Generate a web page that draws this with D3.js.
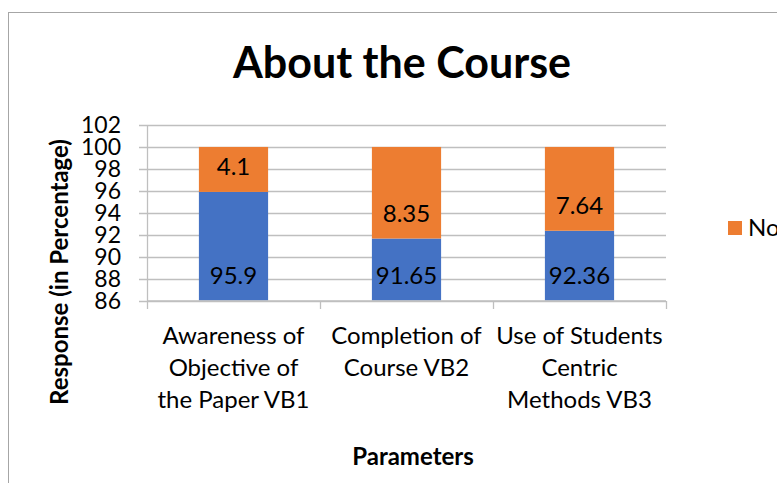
<!DOCTYPE html>
<html>
<head>
<meta charset="utf-8">
<script src="https://cdn.jsdelivr.net/npm/d3@7"></script>
<style>
  body { margin: 0; background: #fff; }
  text { font-family: Lato, "Noto Sans", sans-serif; fill: #000; }
</style>
</head>
<body>
<div id="chart"></div>
<script>
var width = 777,
    height = 483;

// data
var categories = ['VB1', 'VB2', 'VB3'];
var categoryLines = [
    ['Awareness of', 'Objective of', 'the Paper VB1'],
    ['Completion of', 'Course VB2'],
    ['Use of Students', 'Centric', 'Methods VB3']
];
var yesValues = [95.9, 91.65, 92.36];
var noValues = [4.1, 8.35, 7.64];
var seriesNames = ['Yes', 'No'];
var yTicks = [86, 88, 90, 92, 94, 96, 98, 100, 102];

var colors = { Yes: '#4472C4', No: '#ED7D31' };

var svg = d3.select('#chart').append('svg')
    .attr('width', width)
    .attr('height', height);

// outer chart frame (cut off at right and bottom)
svg.append('rect')
    .attr('x', 8.5)
    .attr('y', 12.5)
    .attr('width', 900)
    .attr('height', 600)
    .attr('fill', 'none')
    .attr('stroke', '#a6a6a6');

var xScale = d3.scaleBand()
    .domain(categories)
    .range([147, 666])
    .paddingInner(0.6)
    .paddingOuter(0.3);

var yScale = d3.scaleLinear()
    .domain([86, 102])
    .range([300.5, 125])
    .clamp(true);

// gridlines + left ticks
svg.append('g')
    .attr('class', 'grid')
    .selectAll('line')
    .data(yTicks)
    .enter().append('line')
    .attr('x1', 139)
    .attr('x2', 666)
    .attr('y1', function(d) { return Math.round(yScale(d)) + 0.5; })
    .attr('y2', function(d) { return Math.round(yScale(d)) + 0.5; })
    .attr('stroke', '#bfbfbf')
    .attr('stroke-width', 1.3);

// y axis labels
svg.append('g')
    .selectAll('text')
    .data(yTicks)
    .enter().append('text')
    .attr('x', 121)
    .attr('y', function(d) { return yScale(d); })
    .attr('dy', '0.35em')
    .attr('text-anchor', 'end')
    .attr('font-size', '23px')
    .text(function(d) { return d; });

// stacked bars
var rows = categories.map(function(c, i) {
    return { cat: c, Yes: yesValues[i], No: noValues[i] };
});
var stacked = d3.stack().keys(seriesNames)(rows);

var layer = svg.selectAll('.layer')
    .data(stacked)
    .enter().append('g')
    .attr('class', 'layer')
    .attr('fill', function(d) { return colors[d.key]; });

layer.selectAll('rect')
    .data(function(d) { return d; })
    .enter().append('rect')
    .attr('x', function(d) { return xScale(d.data.cat); })
    .attr('width', xScale.bandwidth())
    .attr('y', function(d) { return yScale(d[1]); })
    .attr('height', function(d) { return yScale(d[0]) - yScale(d[1]); });

// data labels (inside base)
layer.selectAll('text')
    .data(function(d) { return d.map(function(p) { p.key = d.key; return p; }); })
    .enter().append('text')
    .attr('x', function(d) { return xScale(d.data.cat) + xScale.bandwidth() / 2; })
    .attr('y', function(d) { return yScale(d[0]) - 25; })
    .attr('dy', '0.35em')
    .attr('text-anchor', 'middle')
    .attr('font-size', '24px')
    .text(function(d) { return d.data[d.key]; });

// axis lines
svg.append('line')
    .attr('x1', 147.5).attr('x2', 147.5)
    .attr('y1', 125).attr('y2', 301)
    .attr('stroke', '#bfbfbf').attr('stroke-width', 1.3);

svg.append('line')
    .attr('x1', 147).attr('x2', 666)
    .attr('y1', 301).attr('y2', 301)
    .attr('stroke', '#bfbfbf').attr('stroke-width', 1.3);

svg.append('g')
    .selectAll('line')
    .data(categories.concat(['end']))
    .enter().append('line')
    .attr('x1', function(d, i) { return Math.round(xScale(categories[0]) - xScale.step() * 0.3 + i * xScale.step()) + 0.5; })
    .attr('x2', function(d, i) { return Math.round(xScale(categories[0]) - xScale.step() * 0.3 + i * xScale.step()) + 0.5; })
    .attr('y1', 301)
    .attr('y2', 309)
    .attr('stroke', '#bfbfbf').attr('stroke-width', 1.3);

// category labels
var catText = svg.append('g')
    .selectAll('text')
    .data(categories)
    .enter().append('text')
    .attr('text-anchor', 'middle')
    .attr('font-size', '24px');

catText.selectAll('tspan')
    .data(function(d, i) { return categoryLines[i].map(function(l) { return { cat: d, line: l }; }); })
    .enter().append('tspan')
    .attr('x', function(d) { return xScale(d.cat) + xScale.bandwidth() / 2; })
    .attr('y', function(d, j) { return 344 + j * 32; })
    .text(function(d) { return d.line; });

// title
svg.append('text')
    .attr('x', 402)
    .attr('y', 78)
    .attr('text-anchor', 'middle')
    .attr('font-size', '43px')
    .attr('font-weight', 'bold')
    .text('About the Course');

// axis titles
svg.append('text')
    .attr('transform', 'translate(68,272) rotate(-90)')
    .attr('text-anchor', 'middle')
    .attr('font-size', '24px')
    .attr('font-weight', 'bold')
    .text('Response (in Percentage)');

svg.append('text')
    .attr('x', 413)
    .attr('y', 465)
    .attr('text-anchor', 'middle')
    .attr('font-size', '24px')
    .attr('font-weight', 'bold')
    .text('Parameters');

// legend (only "No" visible, rest cut off)
var legend = svg.append('g')
    .attr('transform', 'translate(728,221)');
legend.append('rect')
    .attr('width', 14)
    .attr('height', 14)
    .attr('fill', colors.No);
legend.append('text')
    .attr('x', 20)
    .attr('y', 7)
    .attr('dy', '0.35em')
    .attr('font-size', '24px')
    .text('No');
</script>
</body>
</html>
